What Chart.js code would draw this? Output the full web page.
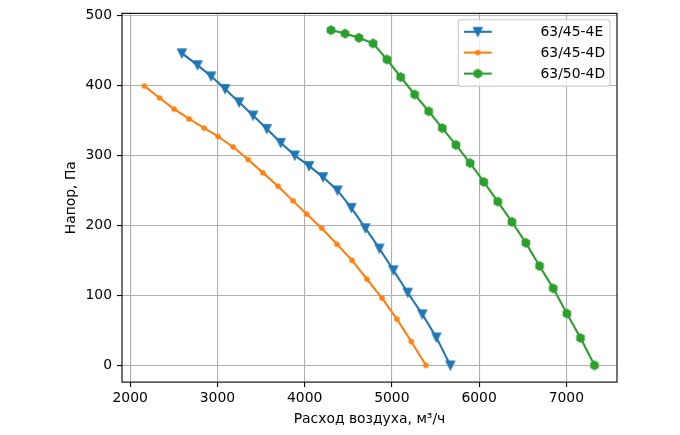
<!DOCTYPE html>
<html>
<head>
<meta charset="utf-8">
<script src="https://cdn.jsdelivr.net/npm/chart.js@4.4.1/dist/chart.umd.min.js"></script>
<style>
html,body{margin:0;padding:0;background:#fff;}
canvas{display:block;}
</style>
</head>
<body>
<canvas id="c" width="680" height="435"></canvas>
<script>
// ---- data ----
const seriesLabels = ["63/45-4E", "63/45-4D", "63/50-4D"];

const fanE45Flow = [2592, 2772, 2928, 3088, 3249, 3409, 3566, 3726, 3887, 4050, 4211, 4376, 4536, 4696, 4857, 5017, 5181, 5349, 5510, 5670];
const fanE45Pressure = [446, 429, 413, 395, 376, 357, 338, 318, 300, 285, 269, 250, 225, 196, 167, 136, 104, 73, 40, 0];

const fanD45Flow = [2164, 2337, 2504, 2676, 2848, 3008, 3180, 3352, 3523, 3695, 3867, 4024, 4196, 4371, 4543, 4715, 4887, 5058, 5223, 5391];
const fanD45Pressure = [399, 382, 366, 352, 339, 327, 312, 294, 275, 256, 235, 216, 196, 173, 150, 123, 96, 66, 34, 0];

const fanD50Flow = [4302, 4463, 4623, 4784, 4944, 5101, 5261, 5422, 5578, 5734, 5897, 6054, 6214, 6376, 6536, 6693, 6850, 7006, 7163, 7323];
const fanD50Pressure = [479, 474, 468, 460, 437, 412, 387, 363, 339, 315, 289, 262, 234, 205, 175, 142, 110, 74, 39, 0];

const xTickValues = [2000, 3000, 4000, 5000, 6000, 7000];
const yTickValues = [0, 100, 200, 300, 400, 500];
const xTitle = "Расход воздуха, м³/ч";
const yTitle = "Напор, Па";

// ---- styling helpers ----
const FONT = "'DejaVu Sans', sans-serif";
const FS = 13.9;
const LW = 2.08;
const COLORS = ["#1f77b4", "#ff7f0e", "#2ca02c"];

function makeMarker(kind, color) {
  const c = document.createElement('canvas');
  c.width = 14; c.height = 14;
  const g = c.getContext('2d');
  const cx = 7, cy = 7, s = 4.17;
  g.beginPath();
  if (kind === 'v') {
    g.moveTo(cx - s, cy - s);
    g.lineTo(cx + s, cy - s);
    g.lineTo(cx, cy + s);
    g.closePath();
  } else if (kind === 'h') {
    for (let i = 0; i < 6; i++) {
      const a = -Math.PI / 2 + i * Math.PI / 3;
      const px = cx + s * Math.cos(a), py = cy + s * Math.sin(a);
      if (i === 0) g.moveTo(px, py); else g.lineTo(px, py);
    }
    g.closePath();
  } else {
    g.arc(cx, cy, 2.1, 0, Math.PI * 2);
  }
  g.fillStyle = color;
  g.strokeStyle = color;
  g.lineWidth = 1.39;
  g.lineJoin = 'miter';
  g.fill();
  g.stroke();
  return c;
}
const markers = [makeMarker('v', COLORS[0]), makeMarker('.', COLORS[1]), makeMarker('h', COLORS[2])];

function toPoints(xs, ys) { return xs.map((x, i) => ({x: x, y: ys[i]})); }

const allX = fanE45Flow.concat(fanD45Flow, fanD50Flow);
const allY = fanE45Pressure.concat(fanD45Pressure, fanD50Pressure);
const xMinD = Math.min(...allX), xMaxD = Math.max(...allX);
const yMinD = Math.min(...allY), yMaxD = Math.max(...allY);
const xPad = (xMaxD - xMinD) * 0.05, yPad = (yMaxD - yMinD) * 0.05;

const datasets = [
  {label: seriesLabels[0], data: toPoints(fanE45Flow, fanE45Pressure)},
  {label: seriesLabels[1], data: toPoints(fanD45Flow, fanD45Pressure)},
  {label: seriesLabels[2], data: toPoints(fanD50Flow, fanD50Pressure)}
].map((d, i) => Object.assign(d, {
  borderColor: COLORS[i],
  backgroundColor: COLORS[i],
  borderWidth: LW,
  borderJoinStyle: 'round',
  borderCapStyle: 'square',
  tension: 0,
  pointStyle: markers[i],
  pointRadius: 5,
  pointHoverRadius: 5,
  order: 3 - i
}));

const frameAndLegend = {
  id: 'frameAndLegend',
  afterDatasetsDraw(chart) {
    const ctx = chart.ctx;
    const a = chart.chartArea;
    ctx.save();
    ctx.strokeStyle = '#000';
    ctx.lineWidth = 1.1;
    ctx.strokeRect(a.left, a.top, a.right - a.left, a.bottom - a.top);

    // legend (upper right, matplotlib-like)
    const bx = 458.3, by = 19.7, bw = 610 - 458.3, bh = 86.3 - 19.7, r = 2.8;
    ctx.beginPath();
    ctx.moveTo(bx + r, by);
    ctx.lineTo(bx + bw - r, by);
    ctx.arcTo(bx + bw, by, bx + bw, by + r, r);
    ctx.lineTo(bx + bw, by + bh - r);
    ctx.arcTo(bx + bw, by + bh, bx + bw - r, by + bh, r);
    ctx.lineTo(bx + r, by + bh);
    ctx.arcTo(bx, by + bh, bx, by + bh - r, r);
    ctx.lineTo(bx, by + r);
    ctx.arcTo(bx, by, bx + r, by, r);
    ctx.closePath();
    ctx.fillStyle = 'rgba(255,255,255,0.8)';
    ctx.fill();
    ctx.strokeStyle = '#cccccc';
    ctx.lineWidth = 1.1;
    ctx.stroke();

    const rows = [31.8, 52.6, 73.6];
    chart.data.datasets.forEach((ds, i) => {
      const y = rows[i];
      ctx.beginPath();
      ctx.moveTo(463.9, y);
      ctx.lineTo(491.7, y);
      ctx.strokeStyle = ds.borderColor;
      ctx.lineWidth = LW;
      ctx.lineCap = 'butt';
      ctx.stroke();
      const m = ds.pointStyle;
      ctx.drawImage(m, 477.8 - m.width / 2, y - m.height / 2);
      ctx.fillStyle = '#000';
      ctx.font = FS + 'px ' + FONT;
      ctx.textAlign = 'left';
      ctx.textBaseline = 'middle';
      ctx.fillText(ds.label, 540.5, y + 0.5);
    });
    ctx.restore();
  }
};

new Chart(document.getElementById('c'), {
  type: 'line',
  data: {datasets: datasets},
  plugins: [frameAndLegend],
  options: {
    responsive: false,
    animation: false,
    events: [],
    layout: {padding: {left: 0, right: 63, top: 12.7, bottom: 0}},
    plugins: {legend: {display: false}, tooltip: {enabled: false}},
    scales: {
      x: {
        type: 'linear',
        min: xMinD - xPad,
        max: xMaxD + xPad,
        afterBuildTicks(s) { s.ticks = xTickValues.map(v => ({value: v})); },
        ticks: {callback: v => String(v), color: '#000', font: {family: FONT, size: FS}, padding: 3, maxRotation: 0, autoSkip: false},
        grid: {color: '#b0b0b0', lineWidth: 1.1, tickColor: '#000', tickLength: 5, tickWidth: 1.1},
        border: {display: false},
        title: {display: true, text: xTitle, color: '#000', font: {family: FONT, size: FS}, padding: {top: 0, bottom: 7}},
        afterFit(s) { s.height = 435 - 382.1; }
      },
      y: {
        type: 'linear',
        min: yMinD - yPad,
        max: yMaxD + yPad,
        afterBuildTicks(s) { s.ticks = yTickValues.map(v => ({value: v})); },
        ticks: {callback: v => String(v), color: '#000', font: {family: FONT, size: FS}, padding: 5, autoSkip: false},
        grid: {color: '#b0b0b0', lineWidth: 1.1, tickColor: '#000', tickLength: 5, tickWidth: 1.1},
        border: {display: false},
        title: {display: true, text: yTitle, color: '#000', font: {family: FONT, size: FS}, padding: {top: 63, bottom: 0}},
        afterFit(s) { s.width = 122; }
      }
    }
  }
});
</script>
</body>
</html>
